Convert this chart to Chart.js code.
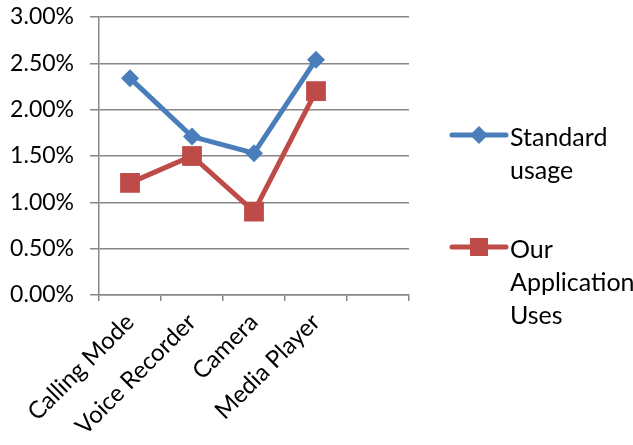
<!DOCTYPE html>
<html>
<head>
<meta charset="utf-8">
<script src="https://cdn.jsdelivr.net/npm/chart.js@4/dist/chart.umd.min.js"></script>
<style>
  html, body { margin: 0; padding: 0; background: #fff; }
  #wrap { width: 633px; height: 445px; }
</style>
</head>
<body>
<div id="wrap"><canvas id="usage_chart"></canvas></div>
<script>
const categories = ['Calling Mode', 'Voice Recorder', 'Camera', 'Media Player', '']
const standardUsage = [2.34, 1.71, 1.53, 2.54, null]
const appUses = [1.21, 1.50, 0.90, 2.20, null]
const yTicks = [0, 0.5, 1, 1.5, 2, 2.5, 3]
const seriesNames = [['Standard', 'usage'], ['Our', 'Application', 'Uses']]

const blue = '#4A7EBB'
const red = '#BE4B48'
const gridColor = '#878787'
const fontFamily = 'Lato, "Open Sans", sans-serif'

// legend drawn by hand because labels wrap over several lines
const sideLegend = {
  id: 'sideLegend',
  afterDraw(chart) {
    const ctx = chart.ctx
    const rows = [135, 247]
    ctx.save()
    chart.data.datasets.forEach((ds, i) => {
      const y = rows[i]
      ctx.strokeStyle = ds.borderColor
      ctx.lineWidth = 5
      ctx.lineCap = 'round'
      ctx.beginPath()
      ctx.moveTo(452, y)
      ctx.lineTo(506, y)
      ctx.stroke()
      ctx.fillStyle = ds.backgroundColor
      ctx.beginPath()
      if (ds.pointStyle === 'rectRot') {
        ctx.moveTo(479, y - 9)
        ctx.lineTo(488, y)
        ctx.lineTo(479, y + 9)
        ctx.lineTo(470, y)
      } else {
        ctx.rect(470, y - 9, 18, 18)
      }
      ctx.closePath()
      ctx.fill()
      ctx.fillStyle = '#000'
      ctx.font = '25px ' + fontFamily
      ctx.textBaseline = 'alphabetic'
      seriesNames[i].forEach((line, j) => ctx.fillText(line, 510, y + 11 + j * 33))
    })
    ctx.restore()
  }
}

new Chart(document.getElementById('usage_chart').getContext('2d'), {
  type: 'line',
  data: {
    labels: categories,
    datasets: [{
      label: 'Standard usage',
      data: standardUsage,
      borderColor: blue,
      backgroundColor: blue,
      borderWidth: 5,
      pointStyle: 'rectRot',
      pointRadius: 9,
      pointBorderWidth: 0,
      tension: 0
    }, {
      label: 'Our Application Uses',
      data: appUses,
      borderColor: red,
      backgroundColor: red,
      borderWidth: 5,
      pointStyle: 'rect',
      pointRadius: 14,
      pointBorderWidth: 0,
      tension: 0
    }]
  },
  options: {
    responsive: true,
    maintainAspectRatio: false,
    animation: false,
    layout: {padding: {top: 17, right: 224, left: 0, bottom: 0}},
    plugins: {legend: {display: false}, tooltip: {enabled: false}},
    scales: {
      x: {
        offset: true,
        grid: {offset: true, drawOnChartArea: false, color: gridColor, lineWidth: 1.5, tickLength: 6},
        border: {color: gridColor, width: 1.5},
        ticks: {
          minRotation: 45, maxRotation: 45, autoSkip: false,
          color: '#000', font: {family: fontFamily, size: 24}, padding: 7
        },
        afterFit: (scale) => { scale.height = 150 }
      },
      y: {
        min: 0, max: 3,
        afterBuildTicks: (scale) => { scale.ticks = yTicks.map(v => ({value: v})) },
        grid: {color: gridColor, lineWidth: 1.5, tickLength: 9},
        border: {color: gridColor, width: 1.5},
        ticks: {
          color: '#000', font: {family: fontFamily, size: 23}, padding: 16,
          callback: (v) => v.toFixed(2) + '%'
        },
        afterFit: (scale) => {
          scale.width = 99
          scale.paddingTop = 0
          scale.paddingBottom = 0
        }
      }
    }
  },
  plugins: [sideLegend]
})
</script>
</body>
</html>
